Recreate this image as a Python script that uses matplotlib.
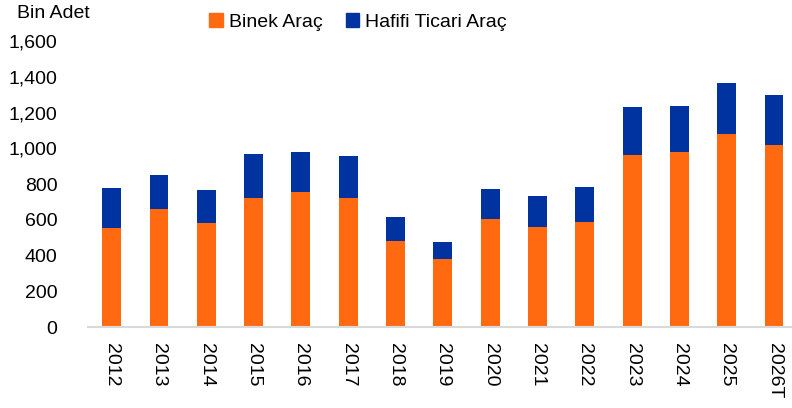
import numpy as np
import matplotlib
matplotlib.use("Agg")
import matplotlib.pyplot as plt
from matplotlib.patches import Patch

FS = 14
plt.rcParams['font.family'] = ['Liberation Sans', 'DejaVu Sans']

years = ["2012", "2013", "2014", "2015", "2016", "2017", "2018", "2019",
         "2020", "2021", "2022", "2023", "2024", "2025", "2026T"]
binek = [554, 662, 585, 725, 755, 722, 485, 384, 608, 561, 589, 964, 977, 1083, 1020]
toplam = [777, 852, 766, 966, 981, 956, 619, 477, 772, 735, 783, 1231, 1236, 1367, 1300]
hafif = [t - b for t, b in zip(toplam, binek)]

ORANGE = "#FF6A10"
BLUE = "#0033A0"

fig = plt.figure(figsize=(7.92, 4.08), dpi=100)
ax = fig.add_axes([88/792, 80.7/408, 1 - 88/792, (327.3 - 41)/408])

x = np.arange(len(years))
ax.bar(x, binek, width=0.40, color=ORANGE)
ax.bar(x, hafif, width=0.40, bottom=binek, color=BLUE)

ax.set_xlim(-0.5, 14.38)
ax.set_ylim(0, 1600)
ax.set_yticks(np.arange(0, 1601, 200))
ax.set_yticklabels([f"{v:,}" for v in range(0, 1601, 200)])
ax.set_xticks(x)
ax.set_xticklabels(years, rotation=-90)

for s in ["top", "right", "left"]:
    ax.spines[s].set_visible(False)
ax.spines["bottom"].set_color("#D9D9D9")
ax.spines["bottom"].set_linewidth(1.5)
ax.tick_params(axis="y", length=0, pad=22, labelsize=FS)
ax.tick_params(axis="x", length=0, pad=11, labelsize=FS)

fig.text(53/792, 1 - 13/408, "Bin Adet", fontsize=FS, ha="center", va="center")

handles = [Patch(color=ORANGE, label="Binek Araç"), Patch(color=BLUE, label="Hafifi Ticari Araç")]
fig.legend(handles=handles, loc="center", bbox_to_anchor=(358/792, 1 - 22/408), ncol=2,
           frameon=False, fontsize=FS, handlelength=0.7, handleheight=0.7,
           handletextpad=0.3, columnspacing=1.2)

fig.savefig("out.png", dpi=100)
